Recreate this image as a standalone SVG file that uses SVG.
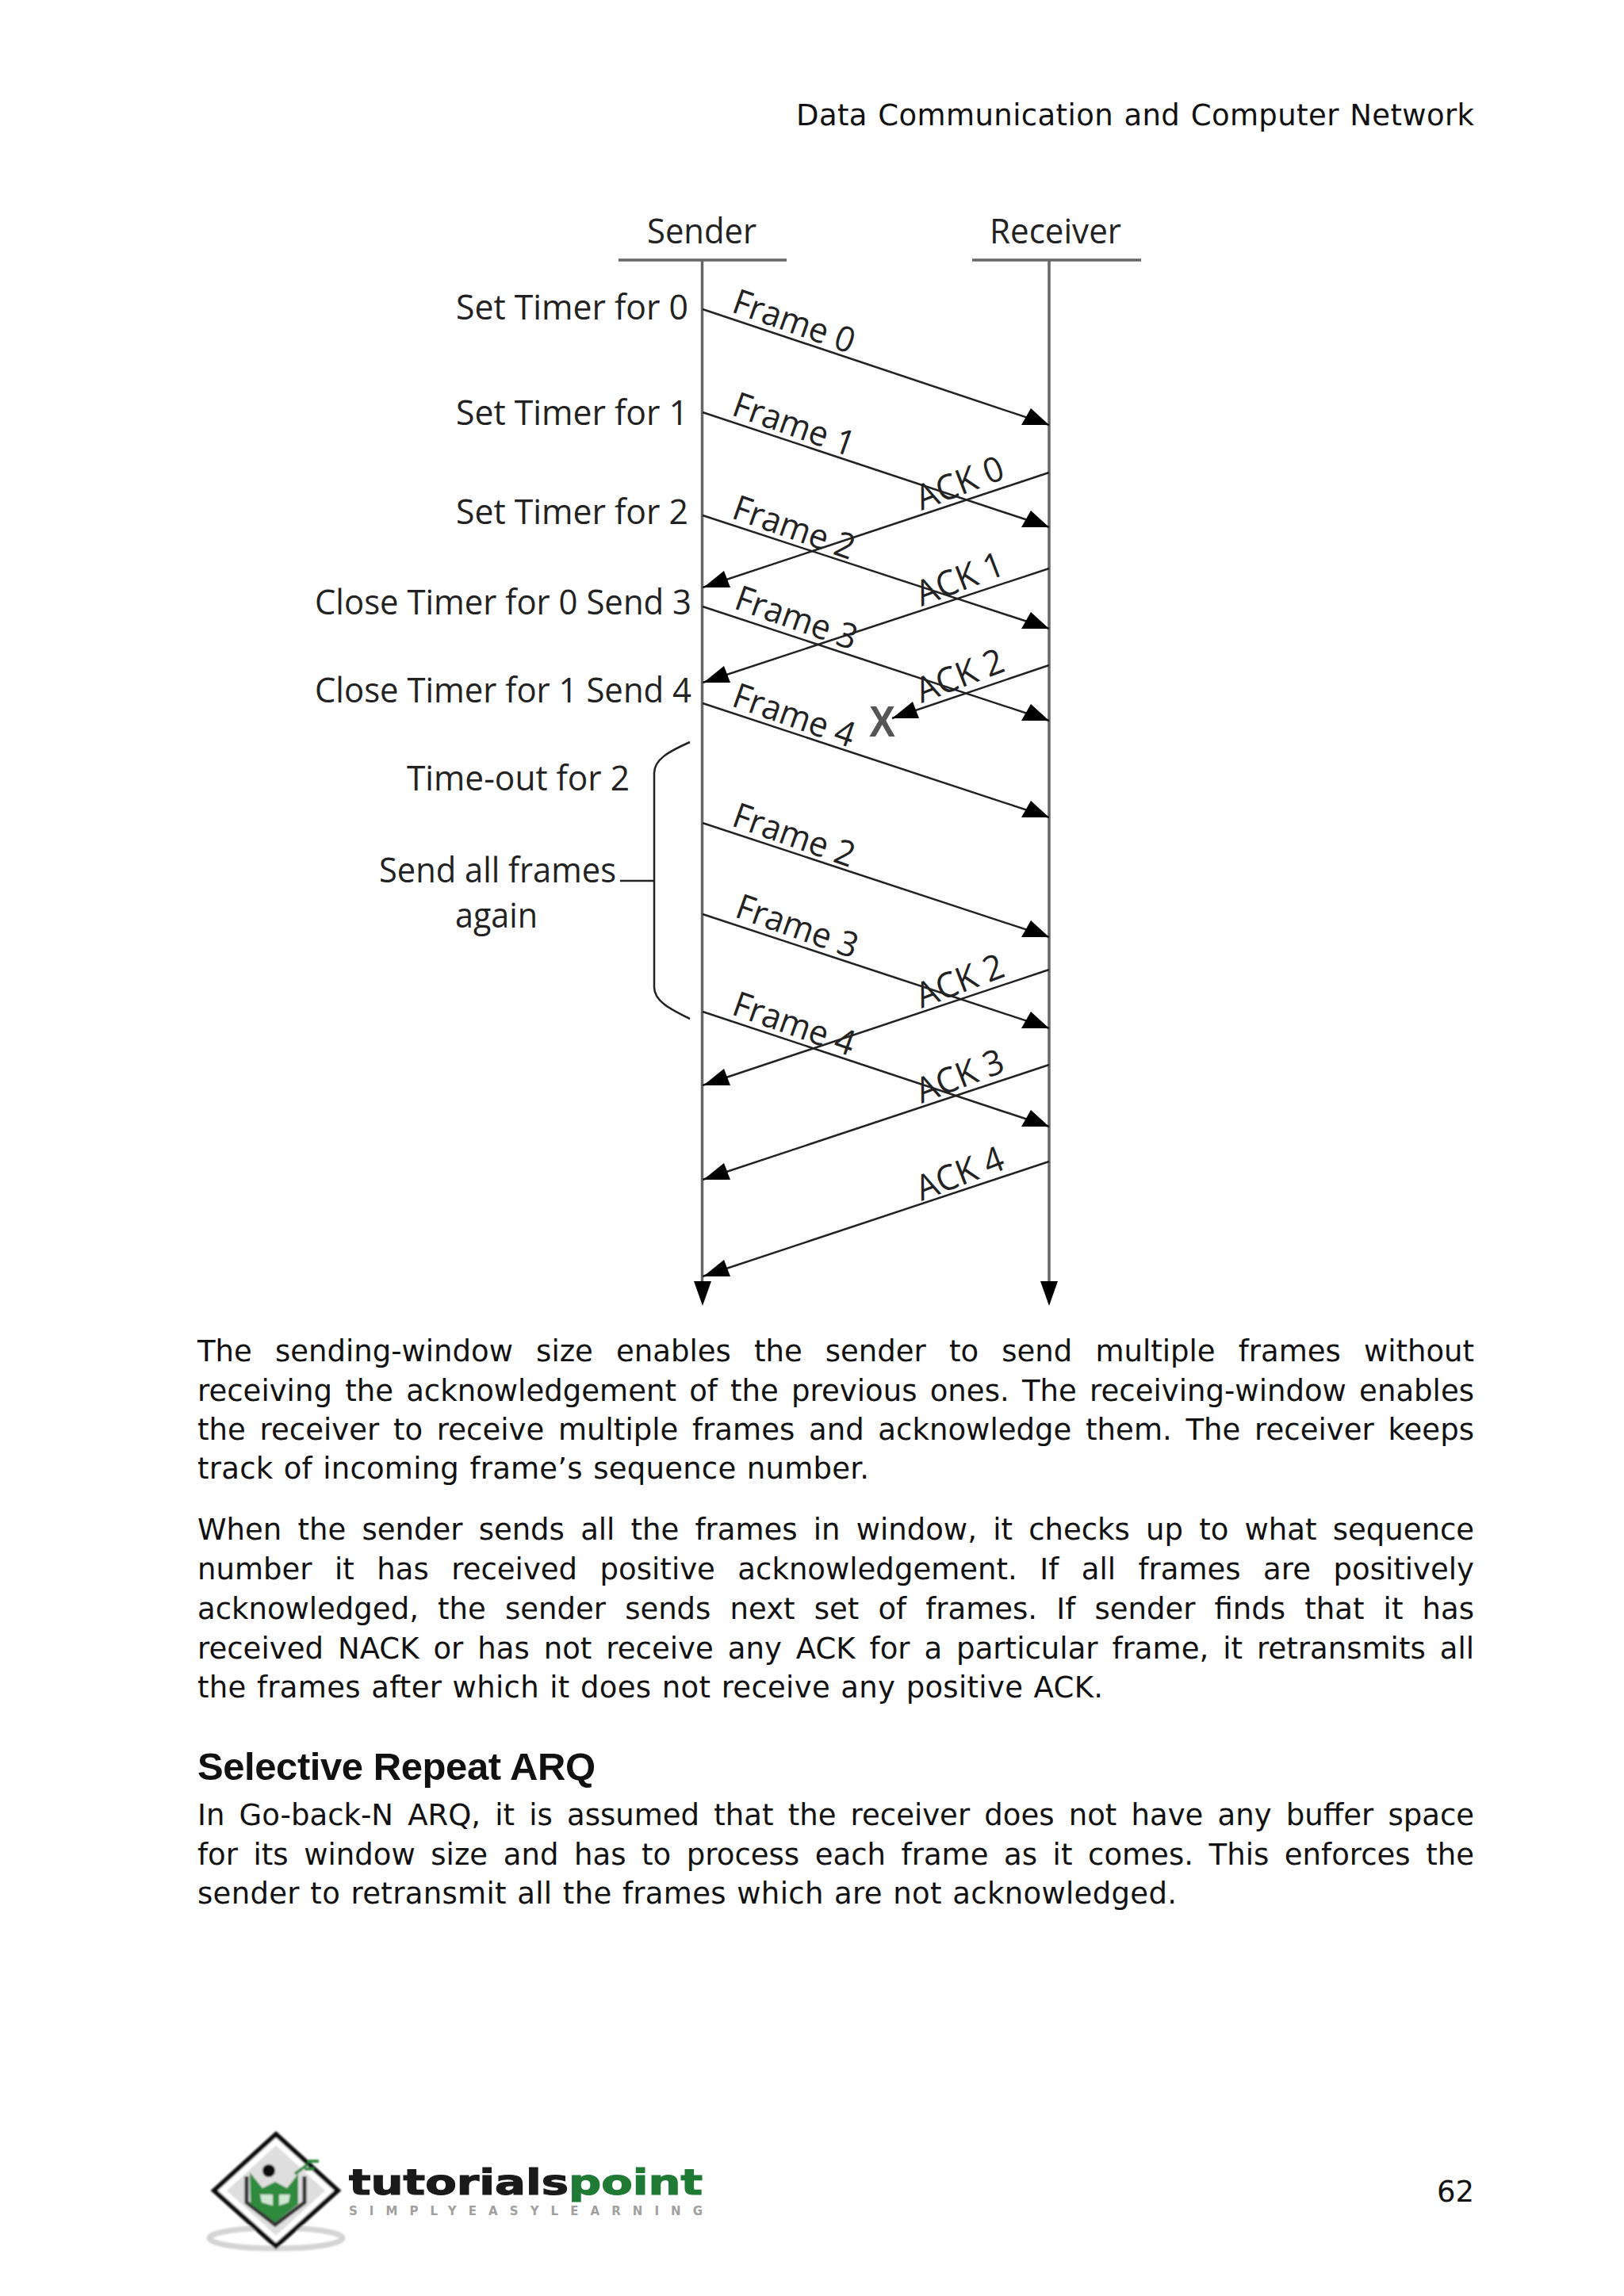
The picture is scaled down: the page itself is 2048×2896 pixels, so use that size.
<svg xmlns="http://www.w3.org/2000/svg" width="2048" height="2896" viewBox="0 0 2048 2896">
<style>
.b{font-family:"DejaVu Sans",Verdana,sans-serif;font-size:37px;fill:#111}
.h{font-family:"Liberation Sans",Arial,sans-serif;font-size:49px;font-weight:700;fill:#111}
.d{font-family:"Open Sans","Noto Sans",sans-serif;font-size:44px;fill:#222}
.l{stroke:#222;stroke-width:2.5;fill:none}
.v{stroke:#666;stroke-width:3.5;fill:none}
.a{fill:#000}
</style>
<defs>
<path id="fh" class="a" d="M0 0H-35L-23 -21Z"/>
<path id="ah" class="a" d="M0 0H34L26 -21Z"/>
<filter id="soft"><feGaussianBlur stdDeviation="0.9"/></filter>
</defs>
<rect width="2048" height="2896" fill="#fff"/>
<g id="page-text">
<text class="b" x="1004" y="158" textLength="855" word-spacing="1.3">Data Communication and Computer Network</text>
<text class="b" x="249" y="1717" textLength="1610" word-spacing="17.4">The sending-window size enables the sender to send multiple frames without</text>
<text class="b" x="249" y="1767" textLength="1610" word-spacing="4.4">receiving the acknowledgement of the previous ones. The receiving-window enables</text>
<text class="b" x="249" y="1816" textLength="1610" word-spacing="5.8">the receiver to receive multiple frames and acknowledge them. The receiver keeps</text>
<text class="b" x="249" y="1865" textLength="847" word-spacing="1.3">track of incoming frame’s sequence number.</text>
<text class="b" x="249" y="1942" textLength="1610" word-spacing="8.5">When the sender sends all the frames in window, it checks up to what sequence</text>
<text class="b" x="249" y="1992" textLength="1610" word-spacing="16.7">number it has received positive acknowledgement. If all frames are positively</text>
<text class="b" x="249" y="2042" textLength="1610" word-spacing="12.4">acknowledged, the sender sends next set of frames. If sender finds that it has</text>
<text class="b" x="249" y="2092" textLength="1610" word-spacing="6.1">received NACK or has not receive any ACK for a particular frame, it retransmits all</text>
<text class="b" x="249" y="2141" textLength="1142" word-spacing="1.3">the frames after which it does not receive any positive ACK.</text>
<text class="h" x="249" y="2245" textLength="502">Selective Repeat ARQ</text>
<text class="b" x="249" y="2302" textLength="1610" word-spacing="6.4">In Go-back-N ARQ, it is assumed that the receiver does not have any buffer space</text>
<text class="b" x="249" y="2352" textLength="1610" word-spacing="7.8">for its window size and has to process each frame as it comes. This enforces the</text>
<text class="b" x="249" y="2401" textLength="1235" word-spacing="1.3">sender to retransmit all the frames which are not acknowledged.</text>
<text class="b" x="1859" y="2777" text-anchor="end">62</text>
</g>
<g id="sender"><text class="d" x="885" y="307" text-anchor="middle" textLength="138" lengthAdjust="spacingAndGlyphs">Sender</text><line class="v" x1="780" y1="328" x2="992" y2="328"/><line class="v" x1="885.5" y1="328" x2="885.5" y2="1620"/><polygon class="a" points="875,1616 897,1616 886,1647"/></g>
<g id="receiver"><text class="d" x="1331" y="307" text-anchor="middle" textLength="166" lengthAdjust="spacingAndGlyphs">Receiver</text><line class="v" x1="1226" y1="328" x2="1439" y2="328"/><line class="v" x1="1323" y1="328" x2="1323" y2="1620"/><polygon class="a" points="1312,1616 1334,1616 1323,1647"/></g>
<g id="sender-notes">
<text class="d" x="575" y="403" textLength="293" lengthAdjust="spacingAndGlyphs">Set Timer for 0</text>
<text class="d" x="575" y="536" textLength="293" lengthAdjust="spacingAndGlyphs">Set Timer for 1</text>
<text class="d" x="575" y="661" textLength="293" lengthAdjust="spacingAndGlyphs">Set Timer for 2</text>
<text class="d" x="397" y="775" textLength="475" lengthAdjust="spacingAndGlyphs">Close Timer for 0 Send 3</text>
<text class="d" x="397" y="886" textLength="475" lengthAdjust="spacingAndGlyphs">Close Timer for 1 Send 4</text>
<text class="d" x="513" y="997" textLength="281" lengthAdjust="spacingAndGlyphs">Time-out for 2</text>
<text class="d" x="478" y="1113" textLength="299" lengthAdjust="spacingAndGlyphs">Send all frames</text>
<text class="d" x="574" y="1170" textLength="104" lengthAdjust="spacingAndGlyphs">again</text>
<path class="l" d="M870 936C843 948 825 958 825 975V1245C825 1262 843 1272 870 1285"/>
<path class="l" d="M782 1111H825"/>
</g>
<g id="connectors">
<line class="l" x1="886" y1="390" x2="1323" y2="536"/><use href="#fh" x="1323" y="536"/>
<line class="l" x1="886" y1="520" x2="1323" y2="665"/><use href="#fh" x="1323" y="665"/>
<line class="l" x1="886" y1="650" x2="1323" y2="793"/><use href="#fh" x="1323" y="793"/>
<line class="l" x1="886" y1="765" x2="1323" y2="909"/><use href="#fh" x="1323" y="909"/>
<line class="l" x1="886" y1="887" x2="1323" y2="1031"/><use href="#fh" x="1323" y="1031"/>
<line class="l" x1="886" y1="1038" x2="1323" y2="1182"/><use href="#fh" x="1323" y="1182"/>
<line class="l" x1="886" y1="1153" x2="1323" y2="1297"/><use href="#fh" x="1323" y="1297"/>
<line class="l" x1="886" y1="1276" x2="1323" y2="1421"/><use href="#fh" x="1323" y="1421"/>
<line class="l" x1="1323" y1="596" x2="886" y2="741"/><use href="#ah" x="887" y="741"/>
<line class="l" x1="1323" y1="717" x2="886" y2="861"/><use href="#ah" x="887" y="861"/>
<line class="l" x1="1323" y1="839" x2="1125" y2="906"/><use href="#ah" x="1125" y="906"/>
<line class="l" x1="1323" y1="1223" x2="886" y2="1369"/><use href="#ah" x="887" y="1369"/>
<line class="l" x1="1323" y1="1343" x2="886" y2="1488"/><use href="#ah" x="887" y="1488"/>
<line class="l" x1="1323" y1="1465" x2="886" y2="1610"/><use href="#ah" x="887" y="1610"/>
</g>
<g id="connector-labels">
<text class="d" transform="translate(921 393) rotate(19.5)" textLength="160" lengthAdjust="spacingAndGlyphs">Frame 0</text>
<text class="d" transform="translate(921 523) rotate(19.5)" textLength="160" lengthAdjust="spacingAndGlyphs">Frame 1</text>
<text class="d" transform="translate(921 653) rotate(19.5)" textLength="160" lengthAdjust="spacingAndGlyphs">Frame 2</text>
<text class="d" transform="translate(924 767) rotate(19.5)" textLength="160" lengthAdjust="spacingAndGlyphs">Frame 3</text>
<text class="d" transform="translate(921 890) rotate(19.5)" textLength="160" lengthAdjust="spacingAndGlyphs">Frame 4</text>
<text class="d" transform="translate(921 1041) rotate(19.5)" textLength="160" lengthAdjust="spacingAndGlyphs">Frame 2</text>
<text class="d" transform="translate(925 1156) rotate(19.5)" textLength="160" lengthAdjust="spacingAndGlyphs">Frame 3</text>
<text class="d" transform="translate(921 1279) rotate(19.5)" textLength="160" lengthAdjust="spacingAndGlyphs">Frame 4</text>
<text class="d" transform="translate(1162 644) rotate(-21)" textLength="115" lengthAdjust="spacingAndGlyphs">ACK 0</text>
<text class="d" transform="translate(1162 765) rotate(-21)" textLength="115" lengthAdjust="spacingAndGlyphs">ACK 1</text>
<text class="d" transform="translate(1162 887) rotate(-21)" textLength="115" lengthAdjust="spacingAndGlyphs">ACK 2</text>
<text class="d" transform="translate(1162 1272) rotate(-21)" textLength="115" lengthAdjust="spacingAndGlyphs">ACK 2</text>
<text class="d" transform="translate(1162 1392) rotate(-21)" textLength="115" lengthAdjust="spacingAndGlyphs">ACK 3</text>
<text class="d" transform="translate(1162 1515) rotate(-21)" textLength="115" lengthAdjust="spacingAndGlyphs">ACK 4</text>
<text x="1096" y="929" textLength="33" lengthAdjust="spacingAndGlyphs" font-family="Liberation Sans,Arial,sans-serif" font-weight="700" font-size="56" fill="#555">X</text>
</g>
<g id="logo">
<g filter="url(#soft)">
<ellipse cx="348" cy="2823" rx="84" ry="13" fill="none" stroke="#d4d4d4" stroke-width="7"/>
<polygon points="348,2692 426,2763 348,2833 270,2763" fill="#fff" stroke="#111" stroke-width="6"/>
<polygon points="348,2706 410,2763 348,2820 286,2763" fill="#dedede"/>
<path d="M311 2745V2778L347 2806L384 2778V2745" fill="none" stroke="#333" stroke-width="5"/>
<path d="M315 2740L331 2760L347 2752L362 2760L376 2742V2780L347 2803L316 2780Z" fill="#2f8a3e"/>
<path d="M328 2768L344 2768V2782L330 2778ZM352 2768L366 2768L364 2778L352 2782Z" fill="#cfe6d2"/>
<circle cx="339" cy="2738" r="8" fill="#111"/>
<path d="M372 2742L388 2730M388 2726H402M384 2736H396" stroke="#2f8a3e" stroke-width="4" fill="none"/>
</g>
<text x="440" y="2768" textLength="277" lengthAdjust="spacingAndGlyphs" font-family="DejaVu Sans,sans-serif" font-weight="700" font-size="44" fill="#1a1a1a" stroke="#1a1a1a" stroke-width="1.2">tutorials</text>
<text x="717" y="2768" textLength="169" lengthAdjust="spacingAndGlyphs" font-family="DejaVu Sans,sans-serif" font-weight="700" font-size="44" fill="#1f7a35" stroke="#1f7a35" stroke-width="1.2">point</text>
<text x="440" y="2794" textLength="446" font-family="DejaVu Sans,sans-serif" font-weight="700" font-size="15" fill="#a0a0a0">SIMPLYEASYLEARNING</text>
</g>
</svg>
